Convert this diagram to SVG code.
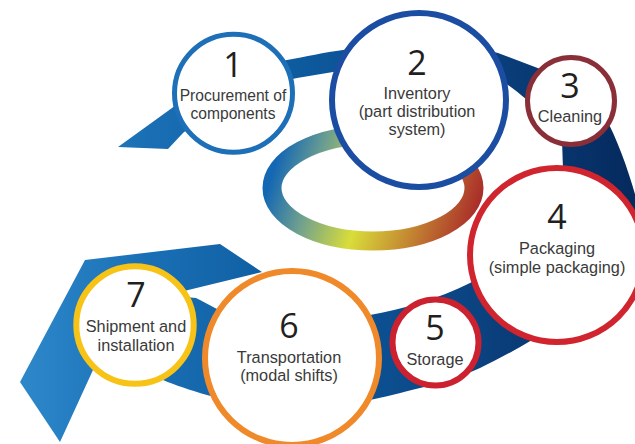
<svg xmlns="http://www.w3.org/2000/svg" width="635" height="444" viewBox="0 0 635 444">
  <defs>
    <linearGradient id="bandGrad" gradientUnits="userSpaceOnUse" x1="20" y1="0" x2="630" y2="0">
      <stop offset="0" stop-color="#2d88ca"/>
      <stop offset="0.21" stop-color="#1a6fb4"/>
      <stop offset="0.46" stop-color="#0d5a9e"/>
      <stop offset="0.74" stop-color="#0b4381"/>
      <stop offset="1" stop-color="#052a5e"/>
    </linearGradient>
    <linearGradient id="ringGrad" gradientUnits="userSpaceOnUse" x1="280" y1="150" x2="480" y2="215">
      <stop offset="0" stop-color="#1467b3"/>
      <stop offset="0.2" stop-color="#6fa08f"/>
      <stop offset="0.45" stop-color="#d9dd3a"/>
      <stop offset="0.75" stop-color="#c07a30"/>
      <stop offset="1" stop-color="#a8262a"/>
    </linearGradient>
  </defs>
  <style>
    .node { fill: #ffffff; }
    .num { font-family: "Open Sans", "Noto Sans", sans-serif; font-size: 34px; fill: #231f20; text-anchor: middle; }
    .lbl { font-family: "Liberation Sans", Arial, sans-serif; font-size: 16.3px; fill: #3a3a3a; text-anchor: middle; }
    .small { font-size: 15.6px; }
  </style>

  <!-- spiral ribbon and inner ring -->
  <g id="connectors">
    <path id="ribbon" fill="url(#bandGrad)" d="
      M 118,147 L 172,108
      C 210,80 250,66 287,60
      C 305,57 325,52 343,50
      C 380,45 450,40 498,53
      L 535,67
      C 570,80 595,100 605,117
      C 618,140 630,175 638,205
      C 655,255 625,315 590,333
      C 570,338 550,336 532,340
      C 515,350 497,360 480,368
      C 460,377 440,384 420,388
      C 400,393 385,397 370,400
      C 330,410 250,408 207,395
      C 190,390 175,385 163,380
      L 93,370 L 60,442 L 20,382 L 85,260 L 220,244 L 262,272
      L 180,292 L 175,296 L 196,298
      C 202,301 208,304 215,308
      C 260,330 330,330 370,315
      C 400,310 440,298 470,283
      C 510,262 545,220 563,170
      L 562,140
      C 552,120 540,108 527,100
      C 520,94 514,89 508,85
      C 460,60 380,62 333,72
      L 297,78
      C 260,85 210,108 183,133
      L 168,149 Z"/>
    <ellipse id="ring" cx="373" cy="188" rx="101" ry="53" fill="none" stroke="url(#ringGrad)" stroke-width="19"/>
  </g>

  <g id="node1">
    <circle class="node" cx="233.5" cy="93.3" r="59" stroke="#1d6fb8" stroke-width="5"/>
    <text class="num" x="233" y="77">1</text>
    <text class="lbl small" x="233" y="101">Procurement of</text>
    <text class="lbl small" x="233" y="119.3">components</text>
  </g>

  <g id="node2">
    <circle class="node" cx="419" cy="100" r="87" stroke="#1b4ea3" stroke-width="6"/>
    <text class="num" x="417" y="75">2</text>
    <text class="lbl" x="417" y="99">Inventory</text>
    <text class="lbl" x="417" y="117">(part distribution</text>
    <text class="lbl" x="417" y="134.5">system)</text>
  </g>

  <g id="node3">
    <circle class="node" cx="571" cy="101" r="43.5" stroke="#8a2f38" stroke-width="5"/>
    <text class="num" x="570" y="98">3</text>
    <text class="lbl" x="570" y="121.7">Cleaning</text>
  </g>

  <g id="node4">
    <circle class="node" cx="557" cy="255" r="87" stroke="#d0252f" stroke-width="6"/>
    <text class="num" x="557" y="229">4</text>
    <text class="lbl" x="557" y="254">Packaging</text>
    <text class="lbl" x="557" y="272.7">(simple packaging)</text>
  </g>

  <g id="node5">
    <circle class="node" cx="435.5" cy="342.5" r="43" stroke="#cc2230" stroke-width="6"/>
    <text class="num" x="435" y="340">5</text>
    <text class="lbl" x="435" y="365">Storage</text>
  </g>

  <g id="node6">
    <circle class="node" cx="292" cy="358" r="87" stroke="#f0892a" stroke-width="6"/>
    <text class="num" x="289" y="338.3">6</text>
    <text class="lbl" x="289" y="362.7">Transportation</text>
    <text class="lbl" x="289" y="380.7">(modal shifts)</text>
  </g>

  <g id="node7">
    <circle class="node" cx="135" cy="325" r="58.7" stroke="#f7c316" stroke-width="6"/>
    <text class="num" x="136" y="306.7">7</text>
    <text class="lbl" x="136" y="332">Shipment and</text>
    <text class="lbl" x="136" y="351.3">installation</text>
  </g>
</svg>
